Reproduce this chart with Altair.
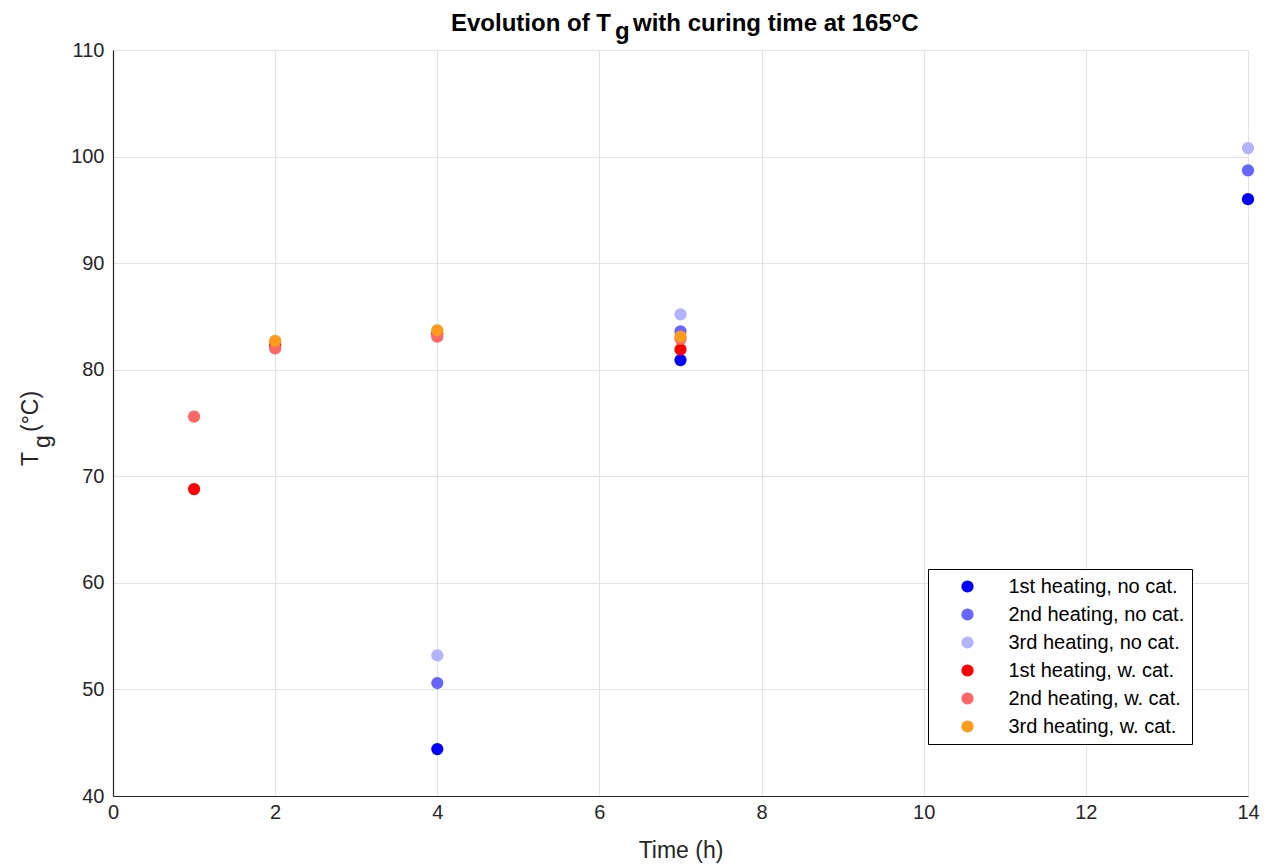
import altair as alt
import pandas as pd

series = ["1st heating, no cat.", "2nd heating, no cat.", "3rd heating, no cat.",
          "1st heating, w. cat.", "2nd heating, w. cat.", "3rd heating, w. cat."]
colors = ["#0000ff", "#6666ff", "#b3b3ff", "#ff0000", "#ff6666", "#ff9a1a"]

time_nocat = [4, 7, 14]
tg_1_nocat = [44.4, 80.9, 96.0]
tg_2_nocat = [50.6, 83.6, 98.7]
tg_3_nocat = [53.2, 85.2, 100.8]

time_cat_12 = [1, 2, 4, 7]
tg_1_cat = [68.8, 82.3, 83.4, 81.9]
tg_2_cat = [75.6, 82.0, 83.1, 82.9]
time_cat_3 = [2, 4, 7]
tg_3_cat = [82.7, 83.7, 83.1]

x_ticks = [0, 2, 4, 6, 8, 10, 12, 14]
y_ticks = [40, 50, 60, 70, 80, 90, 100, 110]

rows = []
for name, ts, vs in [
    (series[0], time_nocat, tg_1_nocat),
    (series[1], time_nocat, tg_2_nocat),
    (series[2], time_nocat, tg_3_nocat),
    (series[3], time_cat_12, tg_1_cat),
    (series[4], time_cat_12, tg_2_cat),
    (series[5], time_cat_3, tg_3_cat),
]:
    for t, v in zip(ts, vs):
        rows.append({"Time": t, "Tg": v, "Series": name, "order": series.index(name)})
df = pd.DataFrame(rows)

FONT = "Liberation Sans"
TXT = "#262626"

points = alt.Chart(df).mark_circle(size=150, opacity=1).encode(
    x=alt.X("Time:Q", scale=alt.Scale(domain=[0, 14], nice=False),
            axis=alt.Axis(values=x_ticks, title="Time (h)", grid=True, ticks=False,
                          labelPadding=6, titlePadding=17, format="d", labelFlush=False)),
    y=alt.Y("Tg:Q", scale=alt.Scale(domain=[40, 110], nice=False, zero=False),
            axis=alt.Axis(values=y_ticks, title=None, grid=True, ticks=False,
                          labelPadding=9, format="d", labelFlush=False)),
    color=alt.Color("Series:N", scale=alt.Scale(domain=series, range=colors),
                    legend=alt.Legend(title=None, orient="none", legendX=815, legendY=519,
                                      strokeColor="black", fillColor="white", padding=7.5,
                                      symbolType="circle", symbolSize=150, symbolStrokeWidth=0,
                                      symbolOffset=22, labelOffset=31, rowPadding=8,
                                      labelFontSize=20, labelFont=FONT, labelColor="black",
                                      labelLimit=400, cornerRadius=0)),
    order="order:Q",
)

one = pd.DataFrame({"a": [0]})

def txt(text, x, y, size, bold=False, angle=0, align="left"):
    return alt.Chart(one).mark_text(
        text=text, font=FONT, fontSize=size, fontWeight="bold" if bold else "normal",
        color="black" if bold else TXT, align=align, baseline="alphabetic", angle=angle
    ).encode(x=alt.value(x), y=alt.value(y))

title_parts = [
    txt("Evolution of T", 498, -19, 24, bold=True, align="right"),
    txt("g", 502, -11, 24, bold=True),
    txt("with curing time at 165°C", 520, -19, 24, bold=True),
]
ytitle_parts = [
    txt("T", -75, 416, 23, angle=270),
    txt("g", -63, 398, 23, angle=270),
    txt("(°C)", -75, 382, 23, angle=270),
]

chart = alt.layer(points, *title_parts, *ytitle_parts).properties(
    width=1135, height=746,
    autosize=alt.AutoSizeParams(type="none"),
    padding={"left": 105, "top": 42, "right": 30, "bottom": 70},
    background="white",
).configure_view(stroke=None).configure_axis(
    labelFont=FONT, labelFontSize=20, labelColor=TXT,
    titleFont=FONT, titleFontSize=23, titleColor=TXT, titleFontWeight="normal",
    domainColor=TXT, domainWidth=1.2, gridColor="#e3e3e3", gridWidth=1,
)

chart.save("out.html", embed_options={"renderer": "svg", "actions": False})
